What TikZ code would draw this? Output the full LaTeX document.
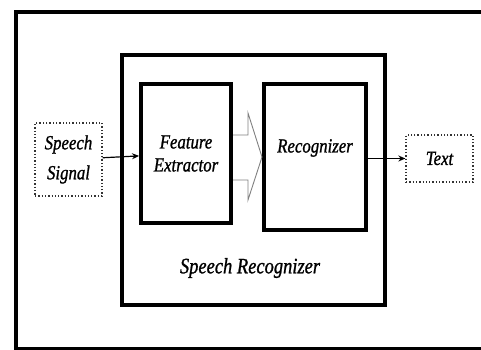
\documentclass[tikz,border=0pt]{standalone}
\usepackage{fontspec}
\usepackage{graphicx}
\setmainfont{Liberation Serif}[ItalicFeatures={FakeBold=1.2}]
\usetikzlibrary{arrows.meta}
\newcommand{\nar}[1]{\scalebox{0.84}[1]{#1}}
\tikzset{blk/.style = {rectangle, line width=4pt, draw, inner sep=0pt},
         io/.style = {rectangle, line width=1.3pt, dotted, draw=black!80, inner sep=0pt},
         lbl/.style = {font=\itshape\fontsize{20}{23}\selectfont, align=center, inner sep=0pt},
         hollow/.style = {draw=gray, line width=0.9pt, line join=miter}}

\begin{document}
\begin{tikzpicture}[x=1pt, y=1pt, >={Stealth[length=7pt, width=6pt]}]
    \useasboundingbox (0,0) rectangle (481,349);
    \clip (0,0) rectangle (481,349);
    \draw[line width=4pt] (16,0) rectangle (500,337);
    \node[blk, minimum width=263pt, minimum height=250pt] (sr) at (253.5,169) {};
    \node[blk, minimum width=90pt, minimum height=139pt, lbl, font=\itshape\fontsize{20}{23}\selectfont] (fe) at (186,195.5) {\nar{Feature}\\\nar{Extractor}};
    \node[blk, minimum width=102pt, minimum height=146pt] (rec) at (315,192) {};
    \node[io, minimum width=67pt, minimum height=73pt, lbl, font=\itshape\fontsize{20}{30}\selectfont] (sig) at (68.5,189.5) {\nar{Speech}\\\nar{Signal}};
    \node[io, minimum width=67pt, minimum height=47pt, lbl] (txt) at (439.5,190.5) {\nar{Text}};
    \node[lbl] (reclbl) at ([yshift=-66pt]rec.north) {\nar{Recognizer}};
    \node[lbl, font=\itshape\fontsize{22}{26}\selectfont] (srlbl) at (250,81) {\nar{Speech Recognizer}};
    \draw[->, line width=1.2pt] (sig) -- (fe);
    \draw[->, line width=1.2pt] (rec.east |- txt) -- (txt);
    \draw[hollow] ([yshift=18.5pt]fe.east) -- ++(15,0) -- ++(0,22) -- (rec.west) -- ++(-14,-43) -- ++(0,20) -- ([yshift=-26.5pt]fe.east);
\end{tikzpicture}
\end{document}
